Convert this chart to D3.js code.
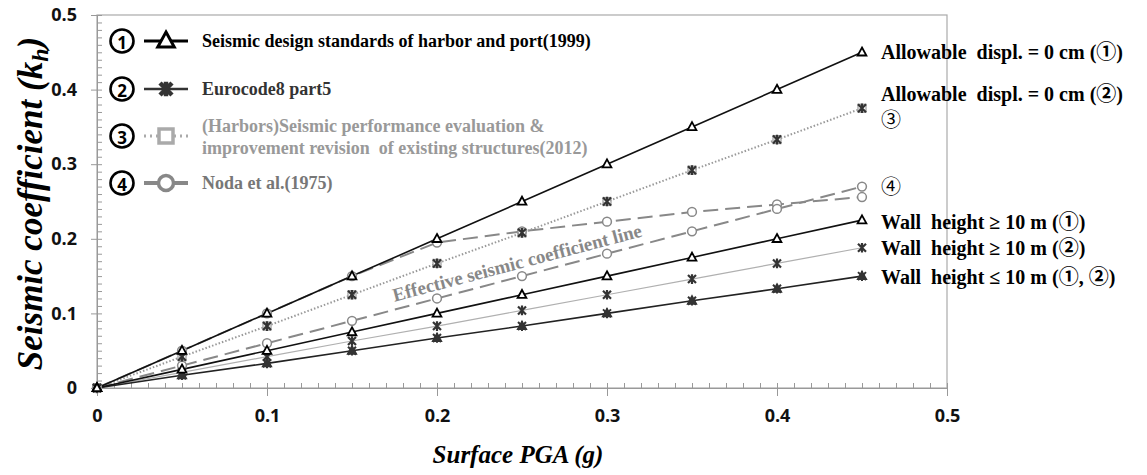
<!DOCTYPE html>
<html>
  <head>
    <meta charset="utf-8">
    <title>Seismic coefficient vs surface PGA</title>
    <script type="text/javascript" src="https://d3js.org/d3.v7.min.js"></script>
    <style type="text/css">
      body { margin: 0; background: #fff; }
      .tick text { font-family: "Open Sans", "Noto Sans", sans-serif; font-weight: 700; font-size: 18px; fill: #111; }
      .serif { font-family: "Liberation Serif", "Noto Sans CJK KR", serif; white-space: pre; }
    </style>
  </head>
  <body>
    <script type="text/javascript">
    // surface PGA (g)
    var pga = [0, 0.05, 0.1, 0.15, 0.2, 0.25, 0.3, 0.35, 0.4, 0.45];
    // seismic coefficient kh for each curve
    var allow1 = [0, 0.05, 0.1, 0.15, 0.2, 0.25, 0.3, 0.35, 0.4, 0.45];
    var allow2 = [0, 0.042, 0.083, 0.125, 0.167, 0.208, 0.25, 0.292, 0.333, 0.375];
    var wallHigh1 = [0, 0.025, 0.05, 0.075, 0.1, 0.125, 0.15, 0.175, 0.2, 0.225];
    var wallHigh2 = [0, 0.021, 0.042, 0.063, 0.083, 0.104, 0.125, 0.146, 0.167, 0.188];
    var wallLow = [0, 0.017, 0.033, 0.05, 0.067, 0.083, 0.1, 0.117, 0.133, 0.15];
    var noda = [0, 0.05, 0.1, 0.15, 0.195, 0.21, 0.223, 0.236, 0.246, 0.256];
    var effective = [0, 0.03, 0.06, 0.09, 0.12, 0.15, 0.18, 0.21, 0.24, 0.27];

    var axisTicks = [0, 0.1, 0.2, 0.3, 0.4, 0.5];
    var legendNames = [
      ["Seismic design standards of harbor and port(1999)"],
      ["Eurocode8 part5"],
      ["(Harbors)Seismic performance evaluation &", "improvement revision  of existing structures(2012)"],
      ["Noda et al.(1975)"]
    ];
    var endLabels = [
      {text: "Allowable  displ. = 0 cm (\u2460)", data: allow1, dy: 0},
      {text: "Allowable  displ. = 0 cm (\u2461)", data: allow2, dy: -14},
      {text: "\u2462", data: allow2, dy: 12, plain: true},
      {text: "\u2463", data: effective, dy: 0, plain: true},
      {text: "Wall  height \u2265 10 m (\u2460)", data: wallHigh1, dy: 2},
      {text: "Wall  height \u2265 10 m (\u2461)", data: wallHigh2, dy: 0},
      {text: "Wall  height \u2264 10 m (\u2460, \u2461)", data: wallLow, dy: 1}
    ];

    var widthSVG = 1147, heightSVG = 475;
    var padLeft = 97, padRight = 947, padTop = 15, padBottom = 388;

    var svg = d3.select("body").append("svg")
                .attr("width", widthSVG)
                .attr("height", heightSVG);

    var x = d3.scaleLinear().domain([0, 0.5]).range([padLeft, padRight]);
    var y = d3.scaleLinear().domain([0, 0.5]).range([padBottom, padTop]);
    var fmt = function(d) { return d === 0 ? "0" : d.toFixed(1); };
    var minor = d3.range(0, 0.501, 0.01);

    // frame
    svg.append("rect")
       .attr("x", padLeft).attr("y", padTop)
       .attr("width", padRight - padLeft).attr("height", padBottom - padTop)
       .attr("fill", "none").attr("stroke", "#aaa").attr("stroke-width", 1.2);

    // minor ticks (inside)
    svg.append("g")
       .attr("transform", "translate(0," + padBottom + ")")
       .call(d3.axisBottom(x).tickValues(minor).tickSize(-5).tickFormat(""))
       .call(function(g) { g.select(".domain").remove(); g.selectAll("line").attr("stroke", "#999"); });
    svg.append("g")
       .attr("transform", "translate(" + padLeft + ",0)")
       .call(d3.axisLeft(y).tickValues(minor).tickSize(-5).tickFormat(""))
       .call(function(g) { g.select(".domain").remove(); g.selectAll("line").attr("stroke", "#999"); });

    // major ticks + labels
    svg.append("g")
       .attr("transform", "translate(0," + padBottom + ")")
       .call(d3.axisBottom(x).tickValues(axisTicks).tickSize(8).tickPadding(13).tickFormat(fmt))
       .call(function(g) { g.select(".domain").attr("stroke", "#999"); g.selectAll("line").attr("stroke", "#999"); });
    svg.append("g")
       .attr("transform", "translate(" + padLeft + ",0)")
       .call(d3.axisLeft(y).tickValues(axisTicks).tickSize(6).tickPadding(14).tickFormat(fmt))
       .call(function(g) { g.select(".domain").attr("stroke", "#999"); g.selectAll("line").attr("stroke", "#999"); });

    // axis titles
    var yt = svg.append("text")
       .attr("class", "serif")
       .attr("transform", "translate(42," + ((padTop + padBottom) / 2 + 2) + ") rotate(-90)")
       .attr("text-anchor", "middle")
       .style("font-size", "35px").style("font-weight", "bold").style("font-style", "italic");
    yt.append("tspan").text("Seismic coefficient (k");
    yt.append("tspan").attr("dy", 6).style("font-size", "24px").text("h");
    yt.append("tspan").attr("dy", -6).text(")");

    svg.append("text")
       .attr("class", "serif")
       .attr("x", (padLeft + padRight) / 2 - 4).attr("y", 463)
       .attr("text-anchor", "middle")
       .style("font-size", "25px").style("font-weight", "bold").style("font-style", "italic")
       .text("Surface PGA (g)");

    // marker shapes
    var triPath = function(s) {
      return "M0," + (-s * 0.6) + "L" + (s * 0.55) + "," + (s * 0.4) + "L" + (-s * 0.55) + "," + (s * 0.4) + "Z";
    };
    var starPath = function(s) {
      var h = s / 2;
      return "M" + (-h) + "," + (-h) + "L" + h + "," + h + "M" + h + "," + (-h) + "L" + (-h) + "," + h +
             "M0," + (-h * 1.2) + "L0," + (h * 1.2);
    };

    function drawSeries(vals, lineStyle) {
      var line = d3.line().x(function(d, i) { return x(pga[i]); }).y(function(d) { return y(d); });
      svg.append("path")
         .datum(vals)
         .attr("d", line)
         .attr("fill", "none")
         .attr("stroke", lineStyle.color)
         .attr("stroke-width", lineStyle.width)
         .attr("stroke-dasharray", lineStyle.dash || null);
    }

    function drawMarkers(vals, kind) {
      var g = svg.append("g");
      var pts = g.selectAll("g").data(vals).enter().append("g")
                 .attr("transform", function(d, i) { return "translate(" + x(pga[i]) + "," + y(d) + ")"; });
      addMarker(pts, kind, 8);
    }

    function addMarker(sel, kind, s) {
      if (kind === "tri") {
        sel.append("path").attr("d", triPath(s)).attr("fill", "#fff").attr("stroke", "#000").attr("stroke-width", 1.8);
      } else if (kind === "star") {
        sel.append("path").attr("d", starPath(s)).attr("fill", "none").attr("stroke", "#333").attr("stroke-width", 2.2);
      } else if (kind === "sqstar") {
        sel.append("rect").attr("x", -s / 2).attr("y", -s / 2).attr("width", s).attr("height", s)
           .attr("fill", "none").attr("stroke", "#999").attr("stroke-width", 1.2);
        sel.append("path").attr("d", starPath(s)).attr("fill", "none").attr("stroke", "#333").attr("stroke-width", 2.2);
      } else if (kind === "circle") {
        sel.append("circle").attr("r", s * 0.55).attr("fill", "#fff").attr("stroke", "#888").attr("stroke-width", 1.5);
      } else if (kind === "tristar") {
        sel.append("path").attr("d", triPath(s)).attr("fill", "#333").attr("stroke", "#333").attr("stroke-width", 1.5);
        sel.append("path").attr("d", starPath(s)).attr("fill", "none").attr("stroke", "#333").attr("stroke-width", 2);
      }
    }

    // lines
    drawSeries(noda, {color: "#888", width: 2, dash: "15,7"});
    drawSeries(effective, {color: "#888", width: 2, dash: "15,7"});
    drawSeries(wallHigh2, {color: "#b0b0b0", width: 1.2});
    drawSeries(allow2, {color: "#999", width: 2, dash: "1.5,2"});
    drawSeries(wallLow, {color: "#222", width: 1.6});
    drawSeries(wallHigh1, {color: "#111", width: 1.6});
    drawSeries(allow1, {color: "#111", width: 1.6});

    // markers
    drawMarkers(noda, "circle");
    drawMarkers(effective, "circle");
    drawMarkers(wallHigh2, "star");
    drawMarkers(allow2, "sqstar");
    drawMarkers(wallLow, "tristar");
    drawMarkers(wallHigh1, "tri");
    drawMarkers(allow1, "tri");

    // effective seismic coefficient line label, along the line
    var ang = Math.atan2(y(effective[9]) - y(0), x(pga[9]) - x(0)) * 180 / Math.PI;
    var lx = x(0.175), ly = y(0.175 * effective[9] / pga[9]) - 8;
    svg.append("text")
       .attr("class", "serif")
       .attr("transform", "translate(" + lx + "," + ly + ") rotate(" + ang + ")")
       .style("font-size", "19px").style("font-weight", "bold").attr("fill", "#888")
       .text("Effective seismic coefficient line");

    // end labels on the right
    endLabels.forEach(function(l) {
      svg.append("text")
         .attr("class", "serif")
         .attr("x", x(pga[9]) + 19)
         .attr("y", y(l.data[9]) + l.dy)
         .attr("dominant-baseline", "central")
         .style("font-size", "20px")
         .style("font-weight", l.plain ? "normal" : "bold")
         .attr("fill", "#000")
         .text(l.text);
    });

    // legend
    var legendRows = [41, 89, 136, 183];
    var legendStyles = [
      {color: "#000", text: "#000", marker: "tri", w: 3},
      {color: "#333", text: "#333", marker: "star", w: 2.5},
      {color: "#aaa", text: "#999", marker: "square", w: 3, dash: "2,4"},
      {color: "#888", text: "#777", marker: "circle", w: 4}
    ];
    legendNames.forEach(function(lines, i) {
      var ly = legendRows[i], st = legendStyles[i];
      var g = svg.append("g").attr("transform", "translate(0," + ly + ")");
      g.append("circle").attr("cx", 122).attr("cy", 0).attr("r", 11.5)
       .attr("fill", "#fff").attr("stroke", "#000").attr("stroke-width", 2.6);
      g.append("text").attr("x", 122).attr("y", 1)
       .attr("text-anchor", "middle").attr("dominant-baseline", "central")
       .style("font-family", "'Open Sans', sans-serif").style("font-weight", "bold").style("font-size", "17px")
       .text(i + 1);
      g.append("line").attr("x1", 144).attr("x2", 188).attr("y1", 0).attr("y2", 0)
       .attr("stroke", st.color).attr("stroke-width", st.w).attr("stroke-dasharray", st.dash || null);
      var m = g.append("g").attr("transform", "translate(166,0)");
      if (st.marker === "tri") {
        m.append("path").attr("d", triPath(15)).attr("fill", "#fff").attr("stroke", "#000").attr("stroke-width", 3);
      } else if (st.marker === "star") {
        m.append("path").attr("d", starPath(12)).attr("fill", "none").attr("stroke", "#333").attr("stroke-width", 4.5);
      } else if (st.marker === "square") {
        m.append("rect").attr("x", -7).attr("y", -7).attr("width", 14).attr("height", 14)
         .attr("fill", "#fff").attr("stroke", "#aaa").attr("stroke-width", 3.5);
      } else {
        m.append("circle").attr("r", 7.5).attr("fill", "#fff").attr("stroke", "#888").attr("stroke-width", 3.5);
      }
      var t = g.append("text").attr("class", "serif")
       .attr("x", 202).attr("y", lines.length > 1 ? -10 : 0)
       .attr("dominant-baseline", "central")
       .style("font-size", "18px").style("font-weight", "bold").attr("fill", st.text);
      lines.forEach(function(s, j) {
        t.append("tspan").attr("x", 202).attr("dy", j === 0 ? 0 : 22).text(s);
      });
    });
    </script>
  </body>
</html>
